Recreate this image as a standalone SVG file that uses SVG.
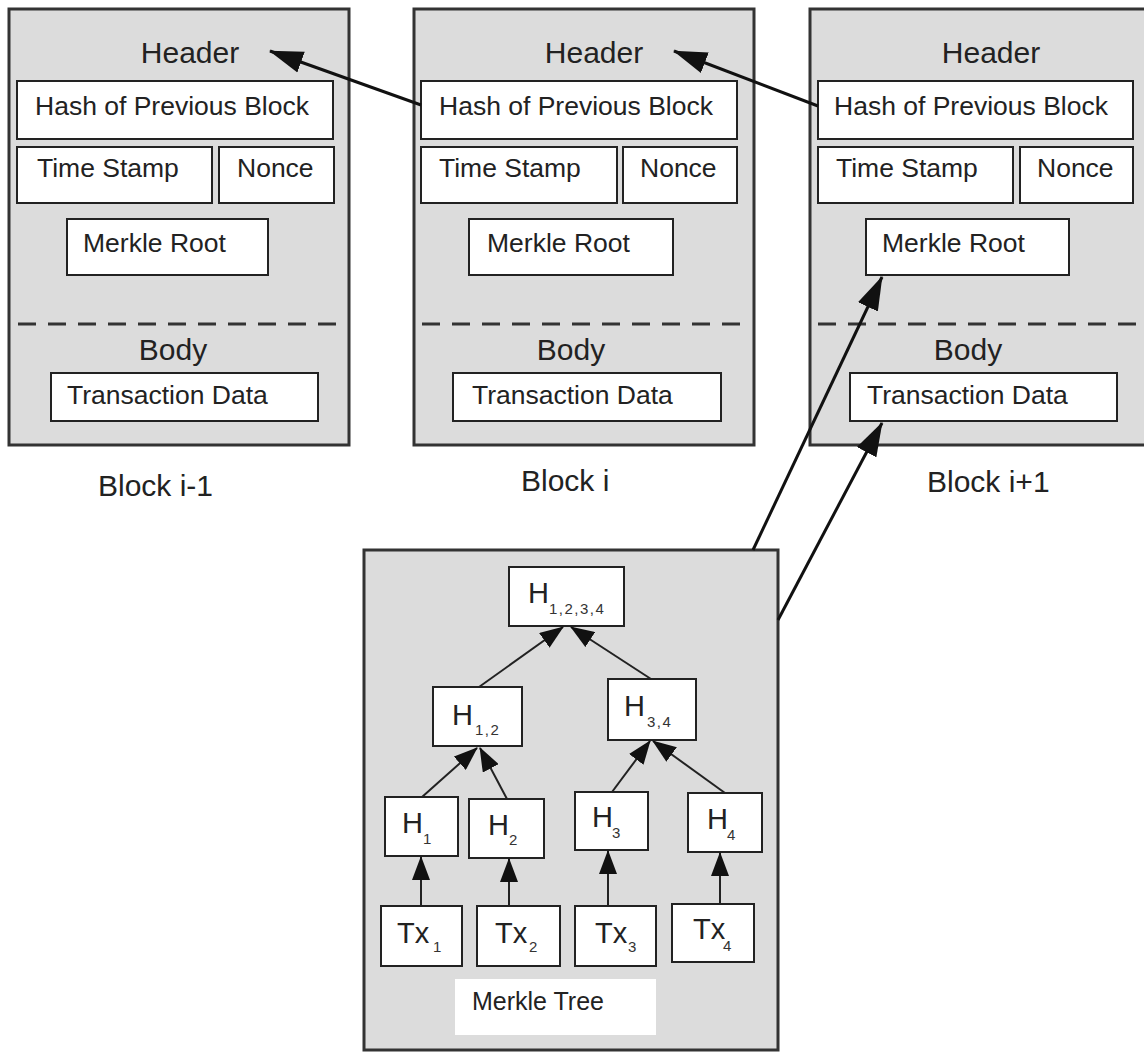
<svg xmlns="http://www.w3.org/2000/svg" width="1144" height="1052" viewBox="0 0 1144 1052">
<defs>
<style>
.blk{fill:#dcdcdc;stroke:#333;stroke-width:3}
.box{fill:#fff;stroke:#222;stroke-width:2}
.dash{stroke:#333;stroke-width:3;stroke-dasharray:18 12;fill:none}
text{font-family:"Liberation Sans",Arial,sans-serif;fill:#222}
.t30{font-size:30px}
.t26{font-size:26.5px}
.t29{font-size:29px}
.sub{font-size:15px;letter-spacing:1.5px;fill:#333}
.big{stroke:#111;stroke-width:3;fill:none;marker-end:url(#ab)}
.sm{stroke:#222;stroke-width:2;fill:none;marker-end:url(#as)}
</style>
<marker id="ab" markerUnits="userSpaceOnUse" markerWidth="34" markerHeight="24" viewBox="0 0 34 24" refX="33" refY="12" orient="auto">
<path d="M0,1 L34,12 L0,23 Z" fill="#111"/>
</marker>
<marker id="as" markerUnits="userSpaceOnUse" markerWidth="24" markerHeight="18" viewBox="0 0 24 18" refX="23" refY="9" orient="auto">
<path d="M0,0 L24,9 L0,18 Z" fill="#111"/>
</marker>
</defs>
<rect width="1144" height="1052" fill="#fff"/>

<g id="block-i-1">
<rect class="blk" x="9" y="9" width="340" height="436"/>
<text class="t30" x="190" y="63" text-anchor="middle">Header</text>
<rect class="box" x="17" y="81" width="316" height="58"/>
<text class="t26" x="35" y="115">Hash of Previous Block</text>
<rect class="box" x="17" y="147" width="195" height="56"/>
<text class="t26" x="37" y="177">Time Stamp</text>
<rect class="box" x="219" y="147" width="115" height="56"/>
<text class="t26" x="237" y="177">Nonce</text>
<rect class="box" x="67" y="219" width="201" height="56"/>
<text class="t26" x="83" y="252">Merkle Root</text>
<line class="dash" x1="18" y1="324" x2="342" y2="324"/>
<text class="t30" x="173" y="360" text-anchor="middle">Body</text>
<rect class="box" x="51" y="373" width="267" height="48"/>
<text class="t26" x="67" y="404">Transaction Data</text>
<text class="t30" x="98" y="496">Block i-1</text>
</g>

<g id="block-i">
<rect class="blk" x="414" y="9" width="340" height="436"/>
<text class="t30" x="594" y="63" text-anchor="middle">Header</text>
<rect class="box" x="421" y="81" width="316" height="58"/>
<text class="t26" x="439" y="115">Hash of Previous Block</text>
<rect class="box" x="421" y="147" width="196" height="56"/>
<text class="t26" x="439" y="177">Time Stamp</text>
<rect class="box" x="623" y="147" width="114" height="56"/>
<text class="t26" x="640" y="177">Nonce</text>
<rect class="box" x="469" y="219" width="204" height="56"/>
<text class="t26" x="487" y="252">Merkle Root</text>
<line class="dash" x1="422" y1="324" x2="745" y2="324"/>
<text class="t30" x="571" y="360" text-anchor="middle">Body</text>
<rect class="box" x="453" y="373" width="268" height="48"/>
<text class="t26" x="472" y="404">Transaction Data</text>
<text class="t30" x="521" y="491">Block i</text>
</g>

<g id="block-i+1">
<rect class="blk" x="810" y="9" width="345" height="436"/>
<text class="t30" x="991" y="63" text-anchor="middle">Header</text>
<rect class="box" x="818" y="81" width="315" height="58"/>
<text class="t26" x="834" y="115">Hash of Previous Block</text>
<rect class="box" x="818" y="147" width="195" height="56"/>
<text class="t26" x="836" y="177">Time Stamp</text>
<rect class="box" x="1020" y="147" width="113" height="56"/>
<text class="t26" x="1037" y="177">Nonce</text>
<rect class="box" x="866" y="219" width="203" height="56"/>
<text class="t26" x="882" y="252">Merkle Root</text>
<line class="dash" x1="818" y1="324" x2="1144" y2="324"/>
<text class="t30" x="968" y="360" text-anchor="middle">Body</text>
<rect class="box" x="850" y="373" width="267" height="48"/>
<text class="t26" x="867" y="404">Transaction Data</text>
<text class="t30" x="927" y="492">Block i+1</text>
</g>

<g id="merkle-tree">
<rect class="blk" x="364" y="550" width="414" height="500"/>
<rect x="455" y="979" width="201" height="56" fill="#fff"/>
<text x="472" y="1010" style="font-size:25px">Merkle Tree</text>
</g>

<g id="h1234">
<rect class="box" x="509" y="567" width="115" height="59"/>
<text class="t29" x="528" y="603">H</text>
<text class="sub" x="549" y="614">1,2,3,4</text>
</g>
<g id="h12">
<rect class="box" x="433" y="687" width="89" height="59"/>
<text class="t29" x="452" y="725">H</text>
<text class="sub" x="475" y="735">1,2</text>
</g>
<g id="h34">
<rect class="box" x="608" y="679" width="88" height="61"/>
<text class="t29" x="624" y="716">H</text>
<text class="sub" x="647" y="727">3,4</text>
</g>
<g id="h1">
<rect class="box" x="385" y="797" width="73" height="59"/>
<text class="t29" x="402" y="833">H</text>
<text class="sub" x="423" y="844">1</text>
</g>
<g id="h2">
<rect class="box" x="469" y="799" width="75" height="59"/>
<text class="t29" x="488" y="835">H</text>
<text class="sub" x="509" y="845">2</text>
</g>
<g id="h3">
<rect class="box" x="575" y="792" width="73" height="58"/>
<text class="t29" x="592" y="827">H</text>
<text class="sub" x="612" y="838">3</text>
</g>
<g id="h4">
<rect class="box" x="688" y="793" width="74" height="59"/>
<text class="t29" x="707" y="829">H</text>
<text class="sub" x="727" y="840">4</text>
</g>
<g id="tx1">
<rect class="box" x="381" y="906" width="81" height="60"/>
<text class="t29" x="397" y="943">Tx</text>
<text class="sub" x="433" y="952">1</text>
</g>
<g id="tx2">
<rect class="box" x="477" y="906" width="83" height="60"/>
<text class="t29" x="495" y="943">Tx</text>
<text class="sub" x="529" y="952">2</text>
</g>
<g id="tx3">
<rect class="box" x="575" y="906" width="81" height="60"/>
<text class="t29" x="595" y="943">Tx</text>
<text class="sub" x="628" y="952">3</text>
</g>
<g id="tx4">
<rect class="box" x="672" y="904" width="82" height="58"/>
<text class="t29" x="693" y="939">Tx</text>
<text class="sub" x="723" y="951">4</text>
</g>

<g id="connectors">
<line class="big" x1="421" y1="105" x2="270" y2="51"/>
<line class="big" x1="818" y1="106" x2="674" y2="51"/>
<line class="big" x1="753" y1="550" x2="882" y2="277"/>
<line class="big" x1="778" y1="620" x2="882" y2="423"/>
<line class="sm" x1="479" y1="687" x2="563" y2="627"/>
<line class="sm" x1="651" y1="679" x2="571" y2="627"/>
<line class="sm" x1="422" y1="797" x2="477" y2="748"/>
<line class="sm" x1="507" y1="799" x2="480" y2="748"/>
<line class="sm" x1="612" y1="792" x2="650" y2="741"/>
<line class="sm" x1="725" y1="793" x2="653" y2="741"/>
<line class="sm" x1="421" y1="906" x2="421" y2="857"/>
<line class="sm" x1="509" y1="906" x2="509" y2="859"/>
<line class="sm" x1="608" y1="906" x2="608" y2="851"/>
<line class="sm" x1="720" y1="904" x2="720" y2="853"/>
</g>
</svg>
